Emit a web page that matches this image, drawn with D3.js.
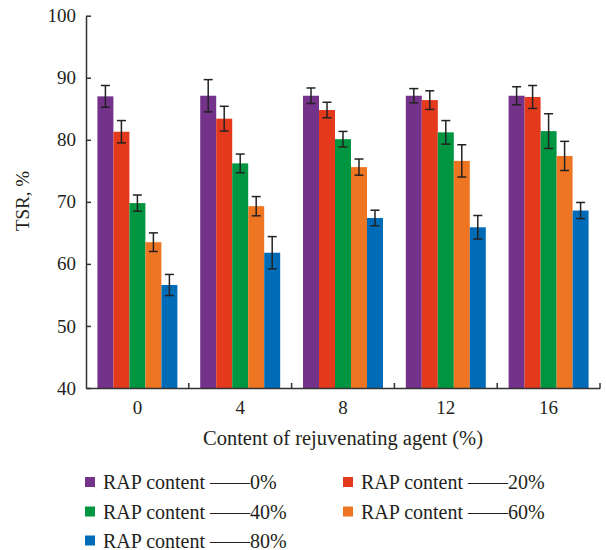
<!DOCTYPE html>
<html>
<head>
<meta charset="utf-8">
<script src="https://cdn.jsdelivr.net/npm/d3@7"></script>
<style>
  html, body { margin: 0; padding: 0; background: #fff; }
  svg { display: block; }
  svg text { font-family: "Liberation Serif", "Times New Roman", Times, "DejaVu Serif", "Noto Serif", Tinos, serif; fill: #231f20; }
</style>
</head>
<body>
<svg id="chart" width="606" height="550"></svg>
<script>
// Content of rejuvenating agent (%) — x categories
const agentContent = ["0", "4", "8", "12", "16"];
// RAP content series
const rapLabels = ["RAP content \u2014\u20140%", "RAP content \u2014\u201420%", "RAP content \u2014\u201440%", "RAP content \u2014\u201460%", "RAP content \u2014\u201480%"];
const rapColors = ["#74328a", "#e3391d", "#009641", "#ee7623", "#006cb7"];

// Mean TSR (%) per RAP content, ordered by agent content
const tsrRap0  = [87.0, 87.1, 87.1, 87.1, 87.1];
const tsrRap20 = [81.3, 83.4, 84.8, 86.4, 86.9];
const tsrRap40 = [69.8, 76.2, 80.1, 81.2, 81.4];
const tsrRap60 = [63.5, 69.3, 75.6, 76.6, 77.4];
const tsrRap80 = [56.6, 61.8, 67.4, 65.9, 68.6];

// Standard deviations (error bars)
const sdRap0  = [1.75, 2.6, 1.25, 1.15, 1.45];
const sdRap20 = [1.8, 2.0, 1.25, 1.5, 1.85];
const sdRap40 = [1.3, 1.5, 1.25, 1.9, 2.8];
const sdRap60 = [1.5, 1.55, 1.3, 2.6, 2.35];
const sdRap80 = [1.7, 2.6, 1.25, 1.9, 1.3];

const yTicks = [40, 50, 60, 70, 80, 90, 100];

const means = [tsrRap0, tsrRap20, tsrRap40, tsrRap60, tsrRap80];
const sds = [sdRap0, sdRap20, sdRap40, sdRap60, sdRap80];

const rows = [];
agentContent.forEach((c, i) => {
  rapLabels.forEach((s, j) => {
    rows.push({ cat: c, series: j, value: means[j][i], sd: sds[j][i] });
  });
});

const svg = d3.select("#chart");
svg.append("rect").attr("width", 606).attr("height", 550).attr("fill", "#fff");

const x = d3.scaleBand().domain(agentContent).range([86, 600])
  .paddingInner(0.222).paddingOuter(0.111);
const xs = d3.scaleBand().domain(d3.range(rapLabels.length)).range([0, x.bandwidth()]);
const y = d3.scaleLinear().domain([40, 100]).range([388, 15.7]);

// Bars
svg.append("g").selectAll("rect").data(rows).join("rect")
  .attr("x", d => x(d.cat) + xs(d.series))
  .attr("y", d => y(d.value))
  .attr("width", xs.bandwidth())
  .attr("height", d => y(40) - y(d.value))
  .attr("fill", d => rapColors[d.series]);

// Error bars
const eb = svg.append("g").attr("stroke", "#222").attr("stroke-width", 1.5).attr("fill", "none");
const cap = 4.5;
rows.forEach(d => {
  const cx = x(d.cat) + xs(d.series) + xs.bandwidth() / 2;
  const y1 = y(d.value + d.sd), y2 = y(d.value - d.sd);
  eb.append("line").attr("x1", cx).attr("x2", cx).attr("y1", y1).attr("y2", y2);
  eb.append("line").attr("x1", cx - cap).attr("x2", cx + cap).attr("y1", y1).attr("y2", y1);
  eb.append("line").attr("x1", cx - cap).attr("x2", cx + cap).attr("y1", y2).attr("y2", y2);
});

// Y axis
const yAxis = svg.append("g").attr("transform", "translate(86,0)")
  .call(d3.axisLeft(y).tickValues(yTicks).tickSizeInner(-5).tickSizeOuter(0).tickPadding(10));
yAxis.attr("font-family", null);
yAxis.select(".domain").attr("stroke", "#333").attr("stroke-width", 1.5);
yAxis.selectAll(".tick line").attr("stroke", "#333").attr("stroke-width", 1.5);
yAxis.selectAll("text").attr("font-size", 19);

// X axis: labels at group centres, ticks at group boundaries
const xAxis = svg.append("g").attr("transform", "translate(0,388)")
  .call(d3.axisBottom(x).tickSize(0).tickPadding(13));
xAxis.attr("font-family", null);
xAxis.select(".domain").attr("stroke", "#333").attr("stroke-width", 1.5);
xAxis.selectAll("text").attr("font-size", 19);

const pad = x.step() * x.paddingInner() / 2;
const bounds = agentContent.slice(1).map(c => x(c) - pad).concat([x.range()[1]]);
svg.append("g").selectAll("line").data(bounds).join("line")
  .attr("x1", d => d).attr("x2", d => d)
  .attr("y1", 388).attr("y2", 383)
  .attr("stroke", "#333").attr("stroke-width", 1.5);

// Axis titles
svg.append("text")
  .attr("x", 343).attr("y", 445)
  .attr("text-anchor", "middle").attr("font-size", 20.5)
  .text("Content of rejuvenating agent (%)");

svg.append("text")
  .attr("transform", "translate(29,201) rotate(-90)")
  .attr("text-anchor", "middle").attr("font-size", 19)
  .text("TSR, %");

// Legend
const legendPos = [[85, 482], [343, 482], [85, 511.5], [343, 511.5], [85, 540.5]];
const lg = svg.append("g").selectAll("g").data(rapLabels).join("g")
  .attr("transform", (d, i) => `translate(${legendPos[i][0]},${legendPos[i][1]})`);
lg.append("rect").attr("x", 0).attr("y", -5).attr("width", 10).attr("height", 10)
  .attr("fill", (d, i) => rapColors[i]);
lg.append("text").attr("x", 18).attr("y", 0).attr("dy", "0.35em")
  .attr("font-size", 20).text(d => d);
</script>
</body>
</html>
